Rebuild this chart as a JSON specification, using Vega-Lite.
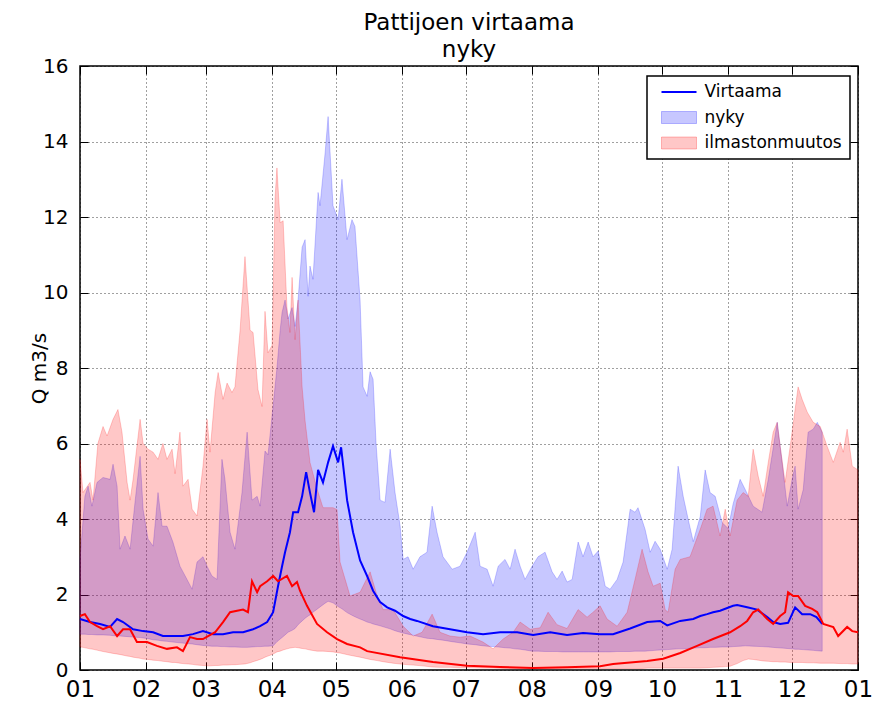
{
  "$schema": "https://vega.github.io/schema/vega-lite/v6.json",
  "width": 778,
  "height": 604,
  "autosize": {"type": "none"},
  "padding": {"left": 80, "top": 66, "right": 15, "bottom": 32},
  "background": "white",
  "title": {"text": ["Pattijoen virtaama", "nyky"], "fontSize": 23, "font": "DejaVu Sans", "fontWeight": "normal", "color": "black", "offset": -6, "anchor": "middle", "lineHeight": 27},
  "config": {
    "view": {"stroke": "black", "strokeWidth": 1.5},
    "font": "DejaVu Sans",
    "axis": {
      "labelFont": "DejaVu Sans", "labelColor": "black",
      "titleFont": "DejaVu Sans", "titleFontSize": 20, "titleFontWeight": "normal", "titleColor": "black",
      "domain": false, "tickColor": "black", "tickSize": -8, "tickWidth": 1,
      "gridColor": "black", "gridDash": [1, 3], "gridOpacity": 0.75, "gridWidth": 1,
      "labelOverlap": false, "labelFlush": false
    },
    "legend": {
      "title": null, "orient": "none", "legendX": 567, "legendY": 10, "padding": 7.5,
      "strokeColor": "black", "fillColor": "white", "strokeWidth": 1.5,
      "labelFontSize": 17, "labelFont": "DejaVu Sans", "labelColor": "black",
      "symbolSize": 400, "rowPadding": 7.5, "labelOffset": 17, "symbolOffset": 16
    }
  },
  "datasets": {
    "nyky": [
      {"d":0,"hi":2.94,"lo":0.95},{"d":2.3,"hi":4.6,"lo":0.95},{"d":3.8,"hi":4.87,"lo":0.94},{"d":5.6,"hi":4.34,"lo":0.94},{"d":8.0,"hi":4.97,"lo":0.93},{"d":10.8,"hi":5.1,"lo":0.93},{"d":14.1,"hi":5.05,"lo":0.92},{"d":15.5,"hi":5.45,"lo":0.91},{"d":17.4,"hi":4.87,"lo":0.9},{"d":18.8,"hi":3.2,"lo":0.9},{"d":21.1,"hi":3.55,"lo":0.89},{"d":23.5,"hi":3.2,"lo":0.88},{"d":25.8,"hi":4.44,"lo":0.87},{"d":28.2,"hi":5.66,"lo":0.86},{"d":29.6,"hi":4.26,"lo":0.85},{"d":31.9,"hi":3.47,"lo":0.83},{"d":34.3,"hi":3.28,"lo":0.8},{"d":36.6,"hi":4.7,"lo":0.79},{"d":38.5,"hi":3.81,"lo":0.77},{"d":40.8,"hi":3.81,"lo":0.76},{"d":43.6,"hi":3.39,"lo":0.74},{"d":46.9,"hi":2.75,"lo":0.72},{"d":50.2,"hi":2.4,"lo":0.7},{"d":52.6,"hi":2.14,"lo":0.69},{"d":54.9,"hi":2.86,"lo":0.67},{"d":57.7,"hi":3.0,"lo":0.65},{"d":59.6,"hi":2.75,"lo":0.64},{"d":61.9,"hi":2.49,"lo":0.63},{"d":64.3,"hi":2.4,"lo":0.63},{"d":66.6,"hi":5.58,"lo":0.62},{"d":68.0,"hi":5.05,"lo":0.62},{"d":70.4,"hi":3.65,"lo":0.61},{"d":72.7,"hi":3.2,"lo":0.61},{"d":76.0,"hi":4.7,"lo":0.6},{"d":78.4,"hi":6.3,"lo":0.6},{"d":80.7,"hi":4.5,"lo":0.61},{"d":83.1,"hi":4.6,"lo":0.62},{"d":84.5,"hi":4.34,"lo":0.62},{"d":86.8,"hi":5.8,"lo":0.63},{"d":88.2,"hi":5.7,"lo":0.63},{"d":90.6,"hi":7.0,"lo":0.64},{"d":92.4,"hi":8.0,"lo":0.75},{"d":93.9,"hi":9.0,"lo":0.82},{"d":94.8,"hi":9.47,"lo":0.86},{"d":96.2,"hi":9.8,"lo":0.93},{"d":97.6,"hi":9.3,"lo":1.0},{"d":99.5,"hi":9.6,"lo":1.05},{"d":100.9,"hi":9.1,"lo":1.1},{"d":102.3,"hi":9.8,"lo":1.2},{"d":104.2,"hi":11.2,"lo":1.3},{"d":105.6,"hi":11.4,"lo":1.37},{"d":107.0,"hi":9.9,"lo":1.43},{"d":107.9,"hi":10.7,"lo":1.46},{"d":109.3,"hi":10.35,"lo":1.53},{"d":111.7,"hi":12.65,"lo":1.63},{"d":112.6,"hi":12.3,"lo":1.67},{"d":115.0,"hi":13.7,"lo":1.77},{"d":116.4,"hi":14.66,"lo":1.82},{"d":118.7,"hi":12.3,"lo":1.78},{"d":121.1,"hi":11.93,"lo":1.68},{"d":122.9,"hi":13.0,"lo":1.62},{"d":125.3,"hi":11.4,"lo":1.52},{"d":127.6,"hi":11.93,"lo":1.45},{"d":129.0,"hi":11.75,"lo":1.41},{"d":131.4,"hi":9.8,"lo":1.35},{"d":132.8,"hi":7.5,"lo":1.32},{"d":134.7,"hi":7.25,"lo":1.27},{"d":136.1,"hi":7.9,"lo":1.25},{"d":137.5,"hi":7.7,"lo":1.22},{"d":138.9,"hi":6.0,"lo":1.2},{"d":140.8,"hi":4.5,"lo":1.17},{"d":143.1,"hi":4.44,"lo":1.13},{"d":145.5,"hi":5.85,"lo":1.09},{"d":147.8,"hi":4.7,"lo":1.04},{"d":150.2,"hi":3.81,"lo":1.0},{"d":151.6,"hi":2.93,"lo":0.98},{"d":153.9,"hi":3.0,"lo":0.95},{"d":156.3,"hi":2.67,"lo":0.92},{"d":159.5,"hi":3.0,"lo":0.88},{"d":162.8,"hi":3.12,"lo":0.84},{"d":165.2,"hi":4.34,"lo":0.83},{"d":167.5,"hi":3.65,"lo":0.81},{"d":170.3,"hi":3.0,"lo":0.79},{"d":174.6,"hi":2.67,"lo":0.75},{"d":178.3,"hi":2.75,"lo":0.72},{"d":181.6,"hi":3.12,"lo":0.69},{"d":185.4,"hi":3.65,"lo":0.67},{"d":187.7,"hi":2.75,"lo":0.65},{"d":191.0,"hi":2.67,"lo":0.63},{"d":193.8,"hi":2.22,"lo":0.62},{"d":196.2,"hi":2.75,"lo":0.61},{"d":199.4,"hi":2.93,"lo":0.59},{"d":201.8,"hi":2.67,"lo":0.58},{"d":204.1,"hi":3.2,"lo":0.56},{"d":206.5,"hi":2.75,"lo":0.55},{"d":208.8,"hi":2.4,"lo":0.53},{"d":212.1,"hi":2.75,"lo":0.5},{"d":214.9,"hi":3.0,"lo":0.5},{"d":218.2,"hi":3.12,"lo":0.49},{"d":221.5,"hi":2.6,"lo":0.49},{"d":223.8,"hi":2.4,"lo":0.49},{"d":226.2,"hi":2.62,"lo":0.48},{"d":228.5,"hi":2.33,"lo":0.48},{"d":230.9,"hi":2.4,"lo":0.48},{"d":233.7,"hi":3.39,"lo":0.48},{"d":236.0,"hi":3.0,"lo":0.48},{"d":238.4,"hi":3.39,"lo":0.48},{"d":240.7,"hi":3.0,"lo":0.48},{"d":243.1,"hi":3.15,"lo":0.48},{"d":246.4,"hi":2.22,"lo":0.48},{"d":248.7,"hi":2.14,"lo":0.48},{"d":252.0,"hi":2.4,"lo":0.49},{"d":254.8,"hi":2.86,"lo":0.49},{"d":258.1,"hi":4.26,"lo":0.49},{"d":260.4,"hi":4.18,"lo":0.5},{"d":261.8,"hi":4.3,"lo":0.5},{"d":265.1,"hi":3.73,"lo":0.5},{"d":267.5,"hi":3.12,"lo":0.51},{"d":269.8,"hi":3.41,"lo":0.52},{"d":272.2,"hi":3.2,"lo":0.53},{"d":275.5,"hi":2.67,"lo":0.54},{"d":277.8,"hi":3.2,"lo":0.55},{"d":280.6,"hi":5.4,"lo":0.56},{"d":283.0,"hi":4.6,"lo":0.56},{"d":285.3,"hi":4.0,"lo":0.57},{"d":287.7,"hi":3.4,"lo":0.58},{"d":291.0,"hi":4.07,"lo":0.59},{"d":293.3,"hi":5.3,"lo":0.59},{"d":295.6,"hi":4.7,"lo":0.6},{"d":298.0,"hi":4.6,"lo":0.6},{"d":301.3,"hi":3.9,"lo":0.61},{"d":304.1,"hi":3.75,"lo":0.61},{"d":306.4,"hi":4.4,"lo":0.62},{"d":309.7,"hi":5.05,"lo":0.63},{"d":312.1,"hi":4.78,"lo":0.64},{"d":315.8,"hi":4.34,"lo":0.63},{"d":320.0,"hi":4.18,"lo":0.62},{"d":322.9,"hi":5.05,"lo":0.61},{"d":327.1,"hi":6.56,"lo":0.59},{"d":329.4,"hi":5.5,"lo":0.58},{"d":331.8,"hi":4.34,"lo":0.57},{"d":334.1,"hi":5.05,"lo":0.56},{"d":335.5,"hi":5.4,"lo":0.55},{"d":336.9,"hi":4.26,"lo":0.55},{"d":339.3,"hi":4.78,"lo":0.54},{"d":341.6,"hi":6.3,"lo":0.53},{"d":344.0,"hi":6.38,"lo":0.52},{"d":345.9,"hi":6.56,"lo":0.51},{"d":348.2,"hi":6.3,"lo":0.5}
    ],
    "ilm": [
      {"d":0,"hi":5.58,"lo":0.61},{"d":1.4,"hi":4.7,"lo":0.6},{"d":4.7,"hi":4.97,"lo":0.56},{"d":6.1,"hi":4.5,"lo":0.55},{"d":8.4,"hi":6.0,"lo":0.52},{"d":10.8,"hi":6.45,"lo":0.49},{"d":12.7,"hi":6.2,"lo":0.47},{"d":15.5,"hi":6.64,"lo":0.44},{"d":17.8,"hi":6.9,"lo":0.42},{"d":19.7,"hi":6.3,"lo":0.4},{"d":22.1,"hi":4.97,"lo":0.37},{"d":23.5,"hi":4.5,"lo":0.36},{"d":24.9,"hi":5.05,"lo":0.34},{"d":28.2,"hi":6.64,"lo":0.31},{"d":29.6,"hi":6.0,"lo":0.29},{"d":31.9,"hi":5.85,"lo":0.28},{"d":34.3,"hi":5.77,"lo":0.26},{"d":36.6,"hi":5.58,"lo":0.25},{"d":38.9,"hi":6.0,"lo":0.23},{"d":40.8,"hi":5.58,"lo":0.22},{"d":43.2,"hi":5.85,"lo":0.2},{"d":44.6,"hi":5.2,"lo":0.2},{"d":46.9,"hi":6.3,"lo":0.18},{"d":48.3,"hi":4.87,"lo":0.17},{"d":50.7,"hi":5.05,"lo":0.16},{"d":52.6,"hi":4.26,"lo":0.15},{"d":54.9,"hi":4.08,"lo":0.13},{"d":57.7,"hi":5.4,"lo":0.12},{"d":59.6,"hi":6.64,"lo":0.11},{"d":61.0,"hi":5.77,"lo":0.11},{"d":63.4,"hi":7.35,"lo":0.12},{"d":64.8,"hi":7.88,"lo":0.12},{"d":67.1,"hi":7.17,"lo":0.13},{"d":69.0,"hi":7.6,"lo":0.13},{"d":71.3,"hi":7.35,"lo":0.14},{"d":72.7,"hi":7.5,"lo":0.14},{"d":75.1,"hi":9.0,"lo":0.15},{"d":77.4,"hi":10.95,"lo":0.16},{"d":79.8,"hi":9.0,"lo":0.19},{"d":81.2,"hi":8.94,"lo":0.22},{"d":83.5,"hi":7.43,"lo":0.26},{"d":85.4,"hi":6.98,"lo":0.3},{"d":86.8,"hi":9.5,"lo":0.34},{"d":88.2,"hi":8.4,"lo":0.37},{"d":90.1,"hi":8.6,"lo":0.41},{"d":91.5,"hi":12.5,"lo":0.45},{"d":92.4,"hi":13.3,"lo":0.48},{"d":93.9,"hi":11.85,"lo":0.5},{"d":95.3,"hi":11.9,"lo":0.53},{"d":97.1,"hi":9.6,"lo":0.56},{"d":98.5,"hi":8.94,"lo":0.58},{"d":99.5,"hi":10.4,"lo":0.59},{"d":100.9,"hi":8.75,"lo":0.6},{"d":102.3,"hi":9.8,"lo":0.59},{"d":104.2,"hi":7.5,"lo":0.57},{"d":105.6,"hi":6.6,"lo":0.56},{"d":107.9,"hi":5.5,"lo":0.53},{"d":111.2,"hi":4.8,"lo":0.5},{"d":114.0,"hi":4.3,"lo":0.5},{"d":118.7,"hi":4.3,"lo":0.48},{"d":120.6,"hi":4.25,"lo":0.46},{"d":122.0,"hi":2.86,"lo":0.45},{"d":126.7,"hi":1.96,"lo":0.39},{"d":131.4,"hi":2.06,"lo":0.34},{"d":136.1,"hi":2.6,"lo":0.28},{"d":139.4,"hi":1.96,"lo":0.25},{"d":142.2,"hi":1.6,"lo":0.22},{"d":146.9,"hi":1.6,"lo":0.18},{"d":151.6,"hi":1.16,"lo":0.15},{"d":156.3,"hi":0.9,"lo":0.13},{"d":160.5,"hi":1.0,"lo":0.11},{"d":165.2,"hi":1.48,"lo":0.08},{"d":168.9,"hi":1.0,"lo":0.07},{"d":173.6,"hi":0.9,"lo":0.07},{"d":178.3,"hi":0.87,"lo":0.06},{"d":183.0,"hi":0.9,"lo":0.06},{"d":189.1,"hi":0.74,"lo":0.05},{"d":193.8,"hi":0.56,"lo":0.05},{"d":198.5,"hi":0.82,"lo":0.04},{"d":203.2,"hi":1.0,"lo":0.04},{"d":206.5,"hi":1.27,"lo":0.04},{"d":211.2,"hi":1.08,"lo":0.04},{"d":215.9,"hi":1.12,"lo":0.04},{"d":219.6,"hi":1.53,"lo":0.04},{"d":223.8,"hi":1.2,"lo":0.04},{"d":228.5,"hi":1.1,"lo":0.04},{"d":233.7,"hi":1.6,"lo":0.04},{"d":237.9,"hi":1.4,"lo":0.04},{"d":240.7,"hi":1.53,"lo":0.04},{"d":244.0,"hi":1.7,"lo":0.04},{"d":247.3,"hi":1.35,"lo":0.04},{"d":252.0,"hi":1.16,"lo":0.04},{"d":256.7,"hi":1.53,"lo":0.04},{"d":260.4,"hi":2.4,"lo":0.04},{"d":263.7,"hi":3.2,"lo":0.04},{"d":266.5,"hi":2.6,"lo":0.05},{"d":268.9,"hi":2.22,"lo":0.05},{"d":272.2,"hi":2.3,"lo":0.05},{"d":274.5,"hi":1.6,"lo":0.05},{"d":275.9,"hi":1.53,"lo":0.05},{"d":279.2,"hi":2.67,"lo":0.05},{"d":281.6,"hi":2.93,"lo":0.05},{"d":286.2,"hi":3.0,"lo":0.05},{"d":291.0,"hi":3.73,"lo":0.05},{"d":294.2,"hi":4.26,"lo":0.06},{"d":297.0,"hi":4.34,"lo":0.07},{"d":300.3,"hi":3.55,"lo":0.08},{"d":302.7,"hi":4.26,"lo":0.09},{"d":305.0,"hi":3.55,"lo":0.1},{"d":308.3,"hi":4.5,"lo":0.17},{"d":311.1,"hi":4.7,"lo":0.25},{"d":313.5,"hi":4.6,"lo":0.29},{"d":315.8,"hi":5.85,"lo":0.28},{"d":318.2,"hi":5.13,"lo":0.26},{"d":320.5,"hi":4.6,"lo":0.24},{"d":322.9,"hi":5.5,"lo":0.23},{"d":325.2,"hi":6.3,"lo":0.22},{"d":327.1,"hi":6.56,"lo":0.22},{"d":328.5,"hi":5.93,"lo":0.21},{"d":330.8,"hi":4.97,"lo":0.21},{"d":333.2,"hi":5.93,"lo":0.2},{"d":336.9,"hi":7.5,"lo":0.2},{"d":338.8,"hi":7.17,"lo":0.2},{"d":341.2,"hi":6.83,"lo":0.19},{"d":344.0,"hi":6.56,"lo":0.19},{"d":347.3,"hi":6.45,"lo":0.18},{"d":350.5,"hi":5.93,"lo":0.18},{"d":353.4,"hi":5.5,"lo":0.18},{"d":356.6,"hi":6.03,"lo":0.17},{"d":358.1,"hi":5.77,"lo":0.17},{"d":359.9,"hi":6.38,"lo":0.17},{"d":362.3,"hi":5.4,"lo":0.16},{"d":365,"hi":5.3,"lo":0.16}
    ],
    "virtaama": [
      {"d":0,"v":1.35},{"d":4.7,"v":1.27},{"d":9.4,"v":1.22},{"d":14.1,"v":1.14},{"d":17.4,"v":1.35},{"d":20.2,"v":1.27},{"d":24.9,"v":1.08},{"d":29.6,"v":1.03},{"d":34.3,"v":1.0},{"d":38.9,"v":0.9},{"d":43.6,"v":0.9},{"d":48.3,"v":0.9},{"d":53.0,"v":0.95},{"d":57.7,"v":1.03},{"d":62.4,"v":0.95},{"d":67.1,"v":0.95},{"d":71.8,"v":1.0},{"d":76.5,"v":1.0},{"d":81.2,"v":1.08},{"d":84.5,"v":1.16},{"d":87.8,"v":1.27},{"d":90.6,"v":1.53},{"d":92.9,"v":2.22},{"d":94.8,"v":2.75},{"d":96.2,"v":3.12},{"d":98.5,"v":3.65},{"d":100.0,"v":4.18},{"d":102.3,"v":4.18},{"d":104.2,"v":4.6},{"d":106.1,"v":5.24},{"d":107.9,"v":4.7},{"d":109.8,"v":4.18},{"d":111.7,"v":5.3},{"d":114.0,"v":4.97},{"d":116.4,"v":5.5},{"d":118.7,"v":5.93},{"d":121.1,"v":5.5},{"d":122.5,"v":5.9},{"d":125.3,"v":4.5},{"d":128.1,"v":3.65},{"d":131.4,"v":2.9},{"d":134.7,"v":2.49},{"d":137.5,"v":2.1},{"d":140.8,"v":1.8},{"d":144.1,"v":1.66},{"d":147.8,"v":1.57},{"d":151.6,"v":1.43},{"d":154.9,"v":1.35},{"d":158.1,"v":1.3},{"d":165.6,"v":1.16},{"d":173.6,"v":1.08},{"d":181.6,"v":1.0},{"d":189.1,"v":0.95},{"d":197.1,"v":1.0},{"d":205.1,"v":1.0},{"d":212.6,"v":0.93},{"d":220.6,"v":1.0},{"d":228.5,"v":0.93},{"d":236.0,"v":0.98},{"d":244.0,"v":0.95},{"d":250.1,"v":0.95},{"d":258.1,"v":1.1},{"d":266.1,"v":1.27},{"d":272.2,"v":1.3},{"d":275.5,"v":1.18},{"d":281.6,"v":1.3},{"d":287.7,"v":1.35},{"d":291.0,"v":1.43},{"d":294.2,"v":1.48},{"d":297.0,"v":1.53},{"d":300.3,"v":1.57},{"d":306.4,"v":1.7},{"d":308.3,"v":1.72},{"d":313.0,"v":1.66},{"d":317.7,"v":1.6},{"d":322.4,"v":1.4},{"d":325.2,"v":1.27},{"d":328.5,"v":1.22},{"d":332.2,"v":1.25},{"d":335.5,"v":1.66},{"d":338.8,"v":1.48},{"d":342.6,"v":1.48},{"d":345.5,"v":1.4},{"d":348.2,"v":1.22}
    ],
    "ilmline": [
      {"d":0,"v":1.43},{"d":2.3,"v":1.48},{"d":4.7,"v":1.27},{"d":8.0,"v":1.16},{"d":10.8,"v":1.08},{"d":14.1,"v":1.16},{"d":17.4,"v":0.9},{"d":20.2,"v":1.08},{"d":23.5,"v":1.08},{"d":26.7,"v":0.74},{"d":31.4,"v":0.74},{"d":36.1,"v":0.64},{"d":40.8,"v":0.56},{"d":45.5,"v":0.6},{"d":48.3,"v":0.5},{"d":51.6,"v":0.87},{"d":54.9,"v":0.82},{"d":57.7,"v":0.82},{"d":60.1,"v":0.9},{"d":63.4,"v":1.0},{"d":67.1,"v":1.27},{"d":70.4,"v":1.53},{"d":73.7,"v":1.57},{"d":76.5,"v":1.6},{"d":78.8,"v":1.53},{"d":80.7,"v":2.35},{"d":83.1,"v":2.06},{"d":84.5,"v":2.22},{"d":87.8,"v":2.35},{"d":90.6,"v":2.49},{"d":92.9,"v":2.35},{"d":97.1,"v":2.49},{"d":99.5,"v":2.22},{"d":101.8,"v":2.33},{"d":103.2,"v":2.1},{"d":106.5,"v":1.7},{"d":111.2,"v":1.22},{"d":115.9,"v":1.0},{"d":120.6,"v":0.82},{"d":125.3,"v":0.69},{"d":131.4,"v":0.6},{"d":134.7,"v":0.5},{"d":150.2,"v":0.34},{"d":165.6,"v":0.21},{"d":181.6,"v":0.11},{"d":197.1,"v":0.08},{"d":212.6,"v":0.05},{"d":228.5,"v":0.07},{"d":244.0,"v":0.1},{"d":250.1,"v":0.16},{"d":266.1,"v":0.24},{"d":273.6,"v":0.3},{"d":281.6,"v":0.45},{"d":289.5,"v":0.64},{"d":297.0,"v":0.82},{"d":305.0,"v":1.0},{"d":309.7,"v":1.16},{"d":313.0,"v":1.3},{"d":315.8,"v":1.53},{"d":318.2,"v":1.6},{"d":322.4,"v":1.35},{"d":325.2,"v":1.22},{"d":328.5,"v":1.43},{"d":330.8,"v":1.53},{"d":332.2,"v":2.06},{"d":334.6,"v":1.96},{"d":336.9,"v":1.96},{"d":340.2,"v":1.7},{"d":343.5,"v":1.62},{"d":345.9,"v":1.53},{"d":348.7,"v":1.22},{"d":353.4,"v":1.14},{"d":355.7,"v":0.9},{"d":359.9,"v":1.14},{"d":362.3,"v":1.03},{"d":365,"v":1.0}
    ]
  },
  "layer": [
    {
      "data": {"name": "nyky"},
      "mark": {"type": "area", "fillOpacity": 0.22, "stroke": "#0000ff", "strokeOpacity": 0.2, "strokeWidth": 1},
      "encoding": {
        "x": {"field": "d", "type": "quantitative", "scale": {"domain": [0, 365], "nice": false, "zero": false},
              "axis": {"orient": "bottom", "values": [0,31,59,90,120,151,181,212,243,273,304,334,365], "labelExpr": "timeFormat(datetime(2001, 0, 1 + datum.value), '%m')", "grid": true, "title": null, "labelAngle": 0, "labelFontSize": 23, "labelPadding": 16}},
        "y": {"field": "hi", "type": "quantitative", "scale": {"domain": [0, 16], "nice": false},
              "axis": {"orient": "left", "values": [0,2,4,6,8,10,12,14,16], "grid": true, "title": "Q m3/s", "titlePadding": -7, "labelFontSize": 20, "labelPadding": 20}},
        "y2": {"field": "lo"},
        "color": {"datum": "nyky", "scale": {"domain": ["Virtaama", "nyky", "ilmastonmuutos"], "range": ["#0000ff", "#0000ff", "#ff0000"]},
                  "legend": {"encode": {"symbols": {"update": {
                    "shape": {"signal": "datum.value === 'Virtaama' ? 'M-1.75,0H1.75' : 'M-1.75,-0.6H1.75V0.6H-1.75Z'"},
                    "fill": {"signal": "datum.value === 'Virtaama' ? 'transparent' : (datum.value === 'nyky' ? '#0000ff' : '#ff0000')"},
                    "stroke": {"signal": "datum.value === 'ilmastonmuutos' ? '#ff0000' : '#0000ff'"},
                    "fillOpacity": {"value": 0.22},
                    "strokeOpacity": {"signal": "datum.value === 'Virtaama' ? 1 : 0.25"},
                    "strokeWidth": {"signal": "datum.value === 'Virtaama' ? 2 : 1"},
                    "opacity": {"value": 1}
                  }}}}}
      }
    },
    {
      "data": {"name": "ilm"},
      "mark": {"type": "area", "fillOpacity": 0.22, "stroke": "#ff0000", "strokeOpacity": 0.2, "strokeWidth": 1},
      "encoding": {
        "x": {"field": "d", "type": "quantitative", "axis": {"orient": "top", "values": [0,31,59,90,120,151,181,212,243,273,304,334,365], "labels": false, "grid": false, "title": null}},
        "y": {"field": "hi", "type": "quantitative", "axis": {"orient": "right", "values": [0,2,4,6,8,10,12,14,16], "labels": false, "grid": false, "title": null}},
        "y2": {"field": "lo"},
        "color": {"datum": "ilmastonmuutos",
                  "legend": {"encode": {"symbols": {"update": {
                    "shape": {"signal": "datum.value === 'Virtaama' ? 'M-1.75,0H1.75' : 'M-1.75,-0.6H1.75V0.6H-1.75Z'"},
                    "fill": {"signal": "datum.value === 'Virtaama' ? 'transparent' : (datum.value === 'nyky' ? '#0000ff' : '#ff0000')"},
                    "stroke": {"signal": "datum.value === 'ilmastonmuutos' ? '#ff0000' : '#0000ff'"},
                    "fillOpacity": {"value": 0.22},
                    "strokeOpacity": {"signal": "datum.value === 'Virtaama' ? 1 : 0.25"},
                    "strokeWidth": {"signal": "datum.value === 'Virtaama' ? 2 : 1"},
                    "opacity": {"value": 1}
                  }}}}}
      }
    },
    {
      "data": {"name": "virtaama"},
      "mark": {"type": "line", "strokeWidth": 2},
      "encoding": {
        "x": {"field": "d", "type": "quantitative", "axis": null},
        "y": {"field": "v", "type": "quantitative", "axis": null},
        "color": {"datum": "Virtaama",
                  "legend": {"encode": {"symbols": {"update": {
                    "shape": {"signal": "datum.value === 'Virtaama' ? 'M-1.75,0H1.75' : 'M-1.75,-0.6H1.75V0.6H-1.75Z'"},
                    "fill": {"signal": "datum.value === 'Virtaama' ? 'transparent' : (datum.value === 'nyky' ? '#0000ff' : '#ff0000')"},
                    "stroke": {"signal": "datum.value === 'ilmastonmuutos' ? '#ff0000' : '#0000ff'"},
                    "fillOpacity": {"value": 0.22},
                    "strokeOpacity": {"signal": "datum.value === 'Virtaama' ? 1 : 0.25"},
                    "strokeWidth": {"signal": "datum.value === 'Virtaama' ? 2 : 1"},
                    "opacity": {"value": 1}
                  }}}}}
      }
    },
    {
      "data": {"name": "ilmline"},
      "mark": {"type": "line", "strokeWidth": 2, "color": "#ff0000"},
      "encoding": {
        "x": {"field": "d", "type": "quantitative", "axis": null},
        "y": {"field": "v", "type": "quantitative", "axis": null}
      }
    }
  ],
  "resolve": {"axis": {"x": "independent", "y": "independent"}}
}
